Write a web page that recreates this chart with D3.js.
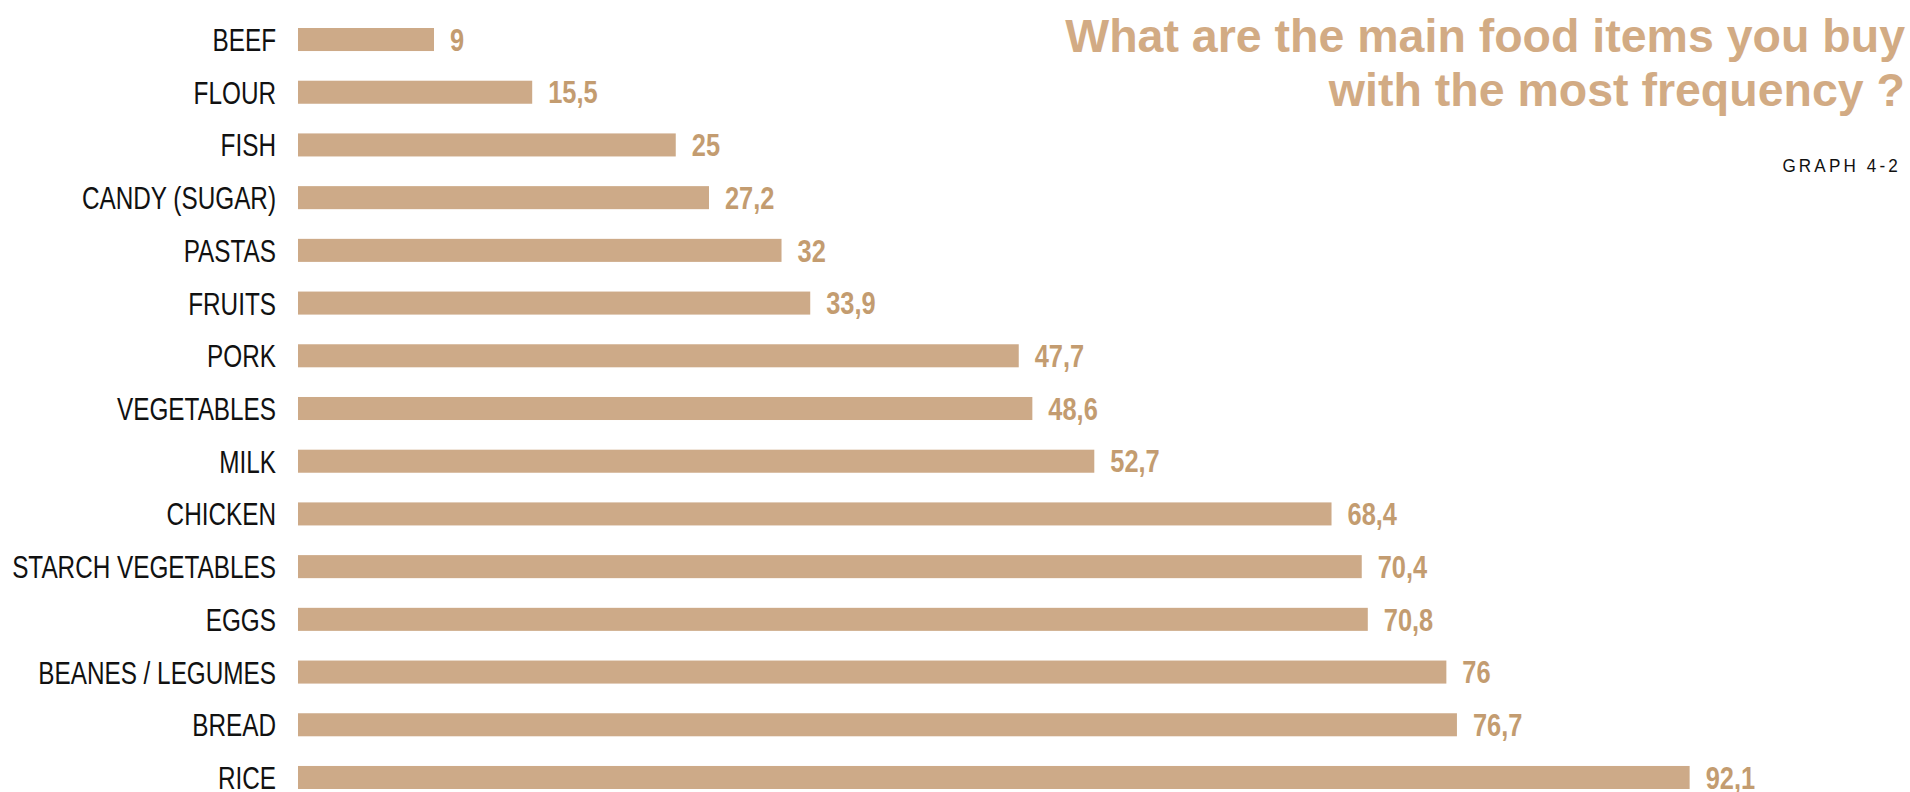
<!DOCTYPE html>
<html>
<head>
<meta charset="utf-8">
<script src="https://cdn.jsdelivr.net/npm/d3@7"></script>
<style>
  body { margin: 0; background: #fff; }
  svg { display: block; }
</style>
</head>
<body>
<svg></svg>
<script>
const items = ["BEEF", "FLOUR", "FISH", "CANDY (SUGAR)", "PASTAS", "FRUITS", "PORK",
  "VEGETABLES", "MILK", "CHICKEN", "STARCH VEGETABLES", "EGGS", "BEANES / LEGUMES", "BREAD", "RICE"];
const shares = [9, 15.5, 25, 27.2, 32, 33.9, 47.7, 48.6, 52.7, 68.4, 70.4, 70.8, 76, 76.7, 92.1];
const titleLines = ["What are the main food items you buy", "with the most frequency ?"];
const graphLabel = "GRAPH 4-2";

const width = 1910;
const height = 792;
const svg = d3.select("svg")
              .attr("width", width)
              .attr("height", height);

const data = items.map((d, i) => ({ name: d, value: shares[i] }));

const x = d3.scaleLinear().domain([0, 100]).range([298, 298 + 1511]);
const y = d3.scaleBand()
            .domain(items)
            .range([28, 789])
            .paddingInner(0.563)
            .paddingOuter(0);

// no narrow font installed, so squeeze the text horizontally
const narrow = 0.76;

// bars
svg.append("g").selectAll("rect")
    .data(data)
    .enter()
    .append("rect")
      .attr("x", x(0))
      .attr("y", d => y(d.name))
      .attr("width", d => x(d.value) - x(0))
      .attr("height", y.bandwidth())
      .attr("fill", "#cdaa88");

// category labels
svg.append("g").selectAll("text")
    .data(data)
    .enter()
    .append("text")
      .attr("transform", d => `translate(276,${y(d.name) + y.bandwidth() / 2}) scale(${narrow},1)`)
      .attr("dy", "0.36em")
      .attr("text-anchor", "end")
      .style("font-family", "'Liberation Sans', Arial, sans-serif")
      .style("font-size", "32px")
      .style("fill", "#111")
      .text(d => d.name);

// value labels
svg.append("g").selectAll("text")
    .data(data)
    .enter()
    .append("text")
      .attr("transform", d => `translate(${x(d.value) + 16},${y(d.name) + y.bandwidth() / 2}) scale(0.82,1)`)
      .attr("dy", "0.36em")
      .style("font-family", "'Liberation Sans', Arial, sans-serif")
      .style("font-weight", "bold")
      .style("font-size", "31px")
      .style("fill", "#c39c70")
      .text(d => String(d.value).replace(".", ","));

// title
svg.append("g").selectAll("text")
    .data(titleLines)
    .enter()
    .append("text")
      .attr("x", 1905)
      .attr("y", (d, i) => 52 + i * 54)
      .attr("text-anchor", "end")
      .style("font-family", "'Liberation Sans', Arial, sans-serif")
      .style("font-weight", "bold")
      .style("font-size", "46.5px")
      .style("fill", "#d2ab84")
      .text(d => d);

svg.append("text")
    .attr("transform", "translate(1901,172) scale(0.9,1)")
    .attr("text-anchor", "end")
    .style("font-family", "'Liberation Sans', Arial, sans-serif")
    .style("font-size", "19px")
    .style("letter-spacing", "3.5px")
    .style("fill", "#111")
    .text(graphLabel);
</script>
</body>
</html>
